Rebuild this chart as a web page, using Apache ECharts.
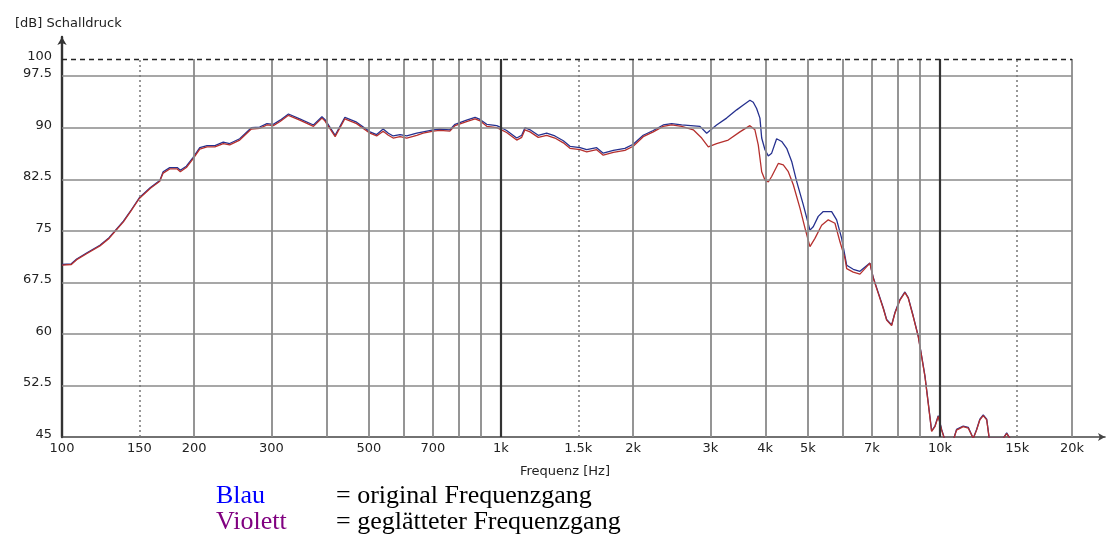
<!DOCTYPE html>
<html>
<head>
<meta charset="utf-8">
<script src="https://cdn.jsdelivr.net/npm/echarts@6/dist/echarts.min.js"></script>
<style>
  html, body { margin: 0; padding: 0; background: #ffffff; }
  #chart { width: 1109px; height: 543px; }
</style>
</head>
<body>
<div id="chart"></div>
<script>
// Frequency response (Hz / dB), original measurement
const freqBlau = [100,105,108,114,122,128,132,138,144,150,159,167,170,176,183,186,192,199,206,214,223,233,241,254,270,282,293,303,314,328,348,374,391,397,419,441,469,503,521,539,554,568,589,610,643,665,701,726,765,786,835,873,896,928,978,995,1030,1086,1115,1134,1165,1216,1271,1327,1387,1436,1514,1568,1652,1710,1803,1916,2001,2109,2223,2342,2448,2580,
  2840,2942,3099,3266,3443,3565,3691,3756,3823,3890,3926,3994,4064,4137,4246,4360,4476,4595,4716,4882,5057,5145,5282,5423,5666,5817,5972,6131,6346,6573,6926,
  7049,7236,7428,7561,7762,7897,8107,8322,8468,8693,8924,9084,9244,9404,9574,9741,9911,10090,10270,10720,10910,11300,11600,11910,12120,12330,12550,12780,12950,13940,14190,14440];
const dbBlau = [70.1,70.2,70.9,71.8,72.9,74.0,75.0,76.4,78.1,79.8,81.3,82.3,83.6,84.2,84.2,83.8,84.4,85.7,87.1,87.4,87.4,87.9,87.7,88.4,90.0,90.1,90.6,90.5,91.1,92.0,91.3,90.4,91.6,91.2,88.9,91.5,90.8,89.4,89.0,89.8,89.2,88.8,89.0,88.8,89.2,89.4,89.7,89.8,89.7,90.5,91.1,91.5,91.2,90.5,90.3,90.1,89.6,88.5,88.9,90.0,89.7,88.9,89.2,88.8,88.1,87.3,87.1,86.8,87.1,86.3,86.7,87.0,87.6,88.9,89.6,90.4,90.6,90.4,
  90.2,89.2,90.4,91.4,92.6,93.3,94.0,93.7,92.8,91.4,88.5,86.8,85.9,86.3,88.4,88.0,87.0,85.1,82.2,78.8,75.1,75.6,77.1,77.8,77.8,76.6,73.9,70.0,69.4,69.1,70.3,
  68.2,66.0,63.8,62.1,61.3,63.1,65.0,66.1,65.3,62.6,59.7,56.8,53.9,50.0,45.9,46.6,48.1,46.1,44.5,44.5,46.1,46.6,46.4,44.8,46.1,47.6,48.2,47.6,44.8,44.8,45.6,44.8];

// Smoothed frequency response (Hz / dB)
const freqViolett = [100,105,108,114,122,128,132,138,144,150,159,167,170,176,183,186,192,199,206,214,223,233,241,254,270,282,293,303,314,328,348,374,391,397,419,441,469,503,521,539,554,568,589,610,643,665,701,726,765,786,835,873,896,928,978,995,1030,1086,1115,1134,1165,1216,1271,1327,1387,1436,1514,1568,1652,1710,1803,1916,2001,2109,2223,2342,2448,2580,2742,2866,2967,3099,3294,3502,3691,3789,3856,3926,3994,4064,4137,4283,4397,4514,4634,4799,4927,5057,5191,5377,5567,5766,5919,6076,6131,6346,6573,6926,7049,7236,7428,7561,7762,7897,8107,8322,8468,8693,8924,9084,9244,9404,9574,9741,9911,10090,10270,10720,10910,11300,11600,11910,12120,12330,12550,12780,12950,13940,14190,14440];
const dbViolett = [70.0,70.1,70.8,71.7,72.8,73.9,74.9,76.3,78.0,79.7,81.2,82.2,83.4,84.0,84.0,83.6,84.2,85.5,86.9,87.2,87.2,87.7,87.5,88.2,89.8,89.9,90.4,90.3,90.9,91.8,91.1,90.2,91.4,91.0,88.7,91.3,90.6,89.2,88.8,89.5,88.9,88.5,88.7,88.5,88.9,89.2,89.5,89.6,89.5,90.3,90.9,91.3,91.0,90.2,90.0,89.8,89.3,88.2,88.6,89.7,89.4,88.6,88.9,88.5,87.8,87.0,86.8,86.5,86.8,86.0,86.4,86.7,87.3,88.7,89.4,90.2,90.4,90.2,89.7,88.5,87.2,87.7,88.2,89.4,90.3,89.7,87.5,83.6,82.4,82.1,82.9,84.8,84.6,83.6,81.7,78.3,75.4,72.7,73.9,75.8,76.6,76.1,73.4,71.0,69.5,69.0,68.7,70.3,68.1,65.9,63.7,62.0,61.2,63.0,64.9,66.0,65.2,62.5,59.6,56.7,53.8,49.9,45.8,46.5,48.0,46.0,44.5,44.5,46.0,46.5,46.3,44.8,46.0,47.5,48.1,47.5,44.8,44.8,45.5,44.8];

// Axis ticks and labels
const xTickFreqs = [100,150,200,300,500,700,1000,1500,2000,3000,4000,5000,7000,10000,15000,20000];
const xTickLabels = ['100','150','200','300','500','700','1k','1.5k','2k','3k','4k','5k','7k','10k','15k','20k'];
const yTicks = [45,52.5,60,67.5,75,82.5,90,97.5,100];

// Grid lines
const gridFreqsSolid = [200,300,400,500,600,700,800,900,2000,3000,4000,5000,6000,7000,8000,9000,20000];
const gridFreqsBold = [1000,10000];
const gridFreqsDotted = [150,1500,15000];
const gridLevels = [52.5,60,67.5,75,82.5,90,97.5];
const topLevel = 100;

const lg = Math.log10;
const xMin = 2;               // 100 Hz
const xMax = lg(23770);       // axis runs a bit past 20 kHz to the arrow
const xEnd = lg(20000);

const gridMarks = [];
gridLevels.forEach(v => gridMarks.push([
  { coord: [xMin, v], lineStyle: { color: '#8a8a8a', width: 1.5, type: 'solid' } },
  { coord: [xEnd, v] }
]));
gridFreqsSolid.forEach(f => gridMarks.push([
  { coord: [lg(f), 45], lineStyle: { color: '#8a8a8a', width: 1.8, type: 'solid' } },
  { coord: [lg(f), topLevel] }
]));
gridFreqsDotted.forEach(f => gridMarks.push([
  { coord: [lg(f), 45], lineStyle: { color: '#777777', width: 1.5, type: [2, 3] } },
  { coord: [lg(f), topLevel] }
]));
gridFreqsBold.forEach(f => gridMarks.push([
  { coord: [lg(f), 45], lineStyle: { color: '#333333', width: 2.2, type: 'solid' } },
  { coord: [lg(f), topLevel] }
]));
gridMarks.push([
  { coord: [xMin, topLevel], lineStyle: { color: '#222222', width: 1.3, type: [5, 4] } },
  { coord: [xEnd, topLevel] }
]);

const toPoints = (fs, ds) => fs.map((f, i) => [lg(f), ds[i]]);

const labelFont = { fontFamily: 'DejaVu Sans', fontSize: 13, color: '#222222' };

const chart = echarts.init(document.getElementById('chart'), null, { renderer: 'canvas' });
chart.setOption({
  animation: false,
  backgroundColor: '#ffffff',
  grid: { left: 62, right: 4, top: 37, bottom: 106, containLabel: false },
  xAxis: {
    type: 'value',
    min: xMin,
    max: xMax,
    axisLine: { show: true, symbol: ['none', 'arrow'], symbolSize: [6, 7], lineStyle: { color: '#444444', width: 1.6 } },
    axisTick: { show: false },
    splitLine: { show: false },
    axisLabel: Object.assign({
      customValues: xTickFreqs.map(lg),
      margin: 5,
      formatter: v => {
        const i = xTickFreqs.findIndex(f => Math.abs(lg(f) - v) < 1e-6);
        return i >= 0 ? xTickLabels[i] : '';
      }
    }, labelFont)
  },
  yAxis: {
    type: 'value',
    min: 45,
    max: 103.2,
    axisLine: { show: true, symbol: ['none', 'arrow'], symbolSize: [7, 8], lineStyle: { color: '#333333', width: 2.4 } },
    axisTick: { show: false },
    splitLine: { show: false },
    axisLabel: Object.assign({
      customValues: yTicks,
      margin: 10,
      verticalAlign: 'bottom',
      lineHeight: 5,
      formatter: v => String(v)
    }, labelFont)
  },
  graphic: [
    { type: 'text', left: 15, top: 17, style: { text: '[dB] Schalldruck', font: '13px "DejaVu Sans"', fill: '#222222' } },
    { type: 'text', x: 565, y: 472, style: { text: 'Frequenz [Hz]', font: '13px "DejaVu Sans"', fill: '#222222', textAlign: 'center', textVerticalAlign: 'middle' } },
    { type: 'text', x: 216, y: 496, style: { text: 'Blau', font: '26px "Liberation Serif"', fill: '#0000ff', textVerticalAlign: 'middle' } },
    { type: 'text', x: 336, y: 496, style: { text: '= original Frequenzgang', font: '26px "Liberation Serif"', fill: '#000000', textVerticalAlign: 'middle' } },
    { type: 'text', x: 216, y: 522, style: { text: 'Violett', font: '26px "Liberation Serif"', fill: '#800080', textVerticalAlign: 'middle' } },
    { type: 'text', x: 336, y: 522, style: { text: '= geglätteter Frequenzgang', font: '26px "Liberation Serif"', fill: '#000000', textVerticalAlign: 'middle' } }
  ],
  series: [
    {
      name: 'Raster',
      type: 'line',
      data: [],
      z: 1,
      silent: true,
      markLine: { silent: true, symbol: ['none', 'none'], label: { show: false }, animation: false, data: gridMarks }
    },
    {
      name: 'Blau',
      type: 'line',
      data: toPoints(freqBlau, dbBlau),
      showSymbol: false,
      z: 3,
      lineStyle: { color: '#26318f', width: 1.3 },
      itemStyle: { color: '#26318f' }
    },
    {
      name: 'Violett',
      type: 'line',
      data: toPoints(freqViolett, dbViolett),
      showSymbol: false,
      z: 4,
      lineStyle: { color: '#b5302e', width: 1.3 },
      itemStyle: { color: '#b5302e' }
    }
  ]
});
</script>
</body>
</html>
